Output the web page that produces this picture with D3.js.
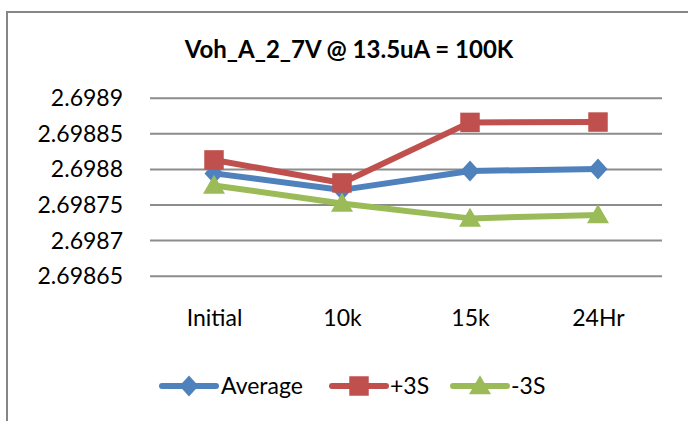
<!DOCTYPE html>
<html><head><meta charset="utf-8">
<script src="https://cdn.jsdelivr.net/npm/d3@7"></script>
<style>
html,body{margin:0;padding:0;background:#fff;}
svg{display:block;}
text{font-family:Lato, "Open Sans", sans-serif;fill:#000;}
</style></head>
<body>
<svg id="chart" width="688" height="421"></svg>
<script>
const title = "Voh_A_2_7V @ 13.5uA = 100K";
const categories = ["Initial", "10k", "15k", "24Hr"];
const average = [2.6987937, 2.6987705, 2.698797, 2.6988];
const plus3S = [2.6988126, 2.6987803, 2.6988653, 2.6988658];
const minus3S = [2.6987768, 2.6987515, 2.6987305, 2.6987354];
const tickValues = [2.69865, 2.6987, 2.69875, 2.6988, 2.69885, 2.6989];
const tickLabels = ["2.69865", "2.6987", "2.69875", "2.6988", "2.69885", "2.6989"];
const seriesNames = ["Average", "+3S", "-3S"];
const seriesColors = ["#4F81BD", "#C0504D", "#9BBB59"];
const seriesMarkers = ["diamond", "square", "triangle"];
const seriesValues = [average, plus3S, minus3S];

(function () {
const svg = d3.select("#chart");
const pLeft = 150, pRight = 662, pTop = 97.7, pBottom = 275.7;

// frame (right and bottom edges fall outside the picture)
svg.append("rect").attr("x", 7).attr("y", 12).attr("width", 720).attr("height", 460)
  .attr("fill", "#fff").attr("stroke", "#868686").attr("stroke-width", 2);

svg.append("text").attr("x", 349).attr("y", 48).attr("text-anchor", "middle")
  .attr("dominant-baseline", "central").attr("font-weight", "bold").attr("font-size", 24)
  .text(title);

const x = d3.scalePoint().domain(categories).range([pLeft, pRight]).padding(0.5);
const y = d3.scaleLinear().domain([tickValues[0], tickValues[tickValues.length - 1]]).range([pBottom, pTop]);

const yAxis = svg.append("g").attr("transform", `translate(${pLeft},0)`)
  .call(d3.axisLeft(y).tickValues(tickValues).tickSize(-(pRight - pLeft)).tickPadding(27)
    .tickFormat((d, i) => tickLabels[i]));
yAxis.select(".domain").remove();
yAxis.selectAll(".tick line").attr("stroke", "#8c8c8c").attr("stroke-width", 2);
yAxis.selectAll(".tick text").attr("font-size", 23).attr("font-family", "Lato").attr("fill", "#000").attr("dy", "0.35em");

const xAxis = svg.append("g").attr("transform", `translate(0,${pBottom})`)
  .call(d3.axisBottom(x).tickSize(0).tickPadding(0));
xAxis.select(".domain").remove();
xAxis.selectAll(".tick text").attr("font-size", 23).attr("font-family", "Lato").attr("fill", "#000")
  .attr("y", 42).attr("dy", "0.35em");

// Excel-like rhombus marker (roughly as wide as tall)
const rhombus = {
  draw(context, size) {
    const h = Math.sqrt(size / 2) * 1.05, w = Math.sqrt(size / 2) * 0.95;
    context.moveTo(0, -h); context.lineTo(w, 0); context.lineTo(0, h); context.lineTo(-w, 0); context.closePath();
  }
};
const symbolFor = m => m === "diamond" ? rhombus : (m === "square" ? d3.symbolSquare : d3.symbolTriangle);
const sizeFor = m => m === "diamond" ? 200 : (m === "square" ? 380 : 210);

const line = d3.line().x((d, i) => x(categories[i])).y(d => y(d));

seriesValues.forEach((vals, s) => {
  const g = svg.append("g");
  g.append("path").datum(vals).attr("d", line).attr("fill", "none")
    .attr("stroke", seriesColors[s]).attr("stroke-width", 6).attr("stroke-linejoin", "round").attr("stroke-linecap", "round");
  g.selectAll("path.m").data(vals).join("path").attr("class", "m")
    .attr("transform", (d, i) => `translate(${x(categories[i])},${y(d) + (seriesMarkers[s] === "triangle" ? 2 : 0)})`)
    .attr("d", d3.symbol().type(symbolFor(seriesMarkers[s])).size(sizeFor(seriesMarkers[s])))
    .attr("fill", seriesColors[s]);
});

// legend
const legendItems = [{lx: 162, tx: 221}, {lx: 332, tx: 390}, {lx: 453, tx: 511}];
const ly = 386;
seriesNames.forEach((name, s) => {
  const it = legendItems[s];
  const g = svg.append("g");
  g.append("line").attr("x1", it.lx).attr("x2", it.lx + 54).attr("y1", ly).attr("y2", ly)
    .attr("stroke", seriesColors[s]).attr("stroke-width", 6).attr("stroke-linecap", "round");
  g.append("path").attr("transform", `translate(${it.lx + 27},${ly + (seriesMarkers[s] === "triangle" ? 2 : 0)})`)
    .attr("d", d3.symbol().type(symbolFor(seriesMarkers[s])).size(sizeFor(seriesMarkers[s])))
    .attr("fill", seriesColors[s]);
  g.append("text").attr("x", it.tx).attr("y", ly).attr("dy", "0.35em").attr("font-size", 23).text(name);
});
})();
</script>
</body></html>
